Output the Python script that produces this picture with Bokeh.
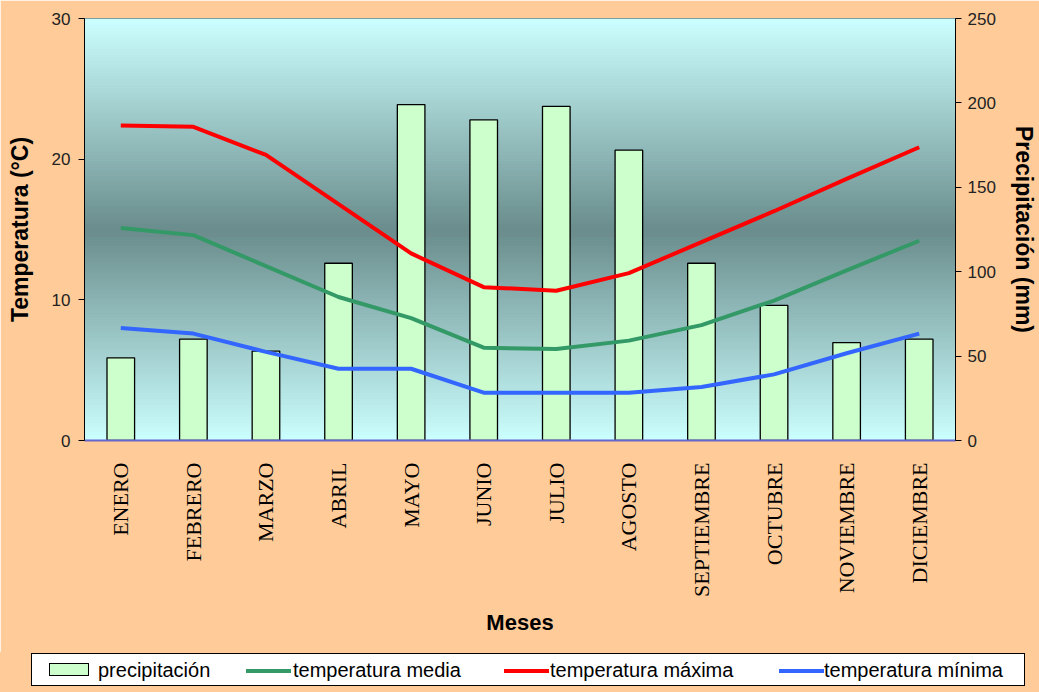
import numpy as np
from bokeh.plotting import figure
from bokeh.layouts import column
from bokeh.models import Range1d, LinearAxis, FixedTicker, FactorRange, Div
from bokeh.embed import file_html
from bokeh.resources import INLINE

# ---- data ----
meses = ["ENERO", "FEBRERO", "MARZO", "ABRIL", "MAYO", "JUNIO", "JULIO",
         "AGOSTO", "SEPTIEMBRE", "OCTUBRE", "NOVIEMBRE", "DICIEMBRE"]
precipitacion = [49, 60, 53, 105, 199, 190, 198, 172, 105, 80, 58, 60]
temp_media = [15.1, 14.6, 12.4, 10.2, 8.7, 6.6, 6.5, 7.1, 8.2, 9.95, 12.1, 14.2]
temp_maxima = [22.4, 22.3, 20.3, 16.8, 13.3, 10.9, 10.65, 11.9, 14.1, 16.3, 18.6, 20.85]
temp_minima = [8.0, 7.6, 6.3, 5.1, 5.1, 3.4, 3.4, 3.4, 3.8, 4.7, 6.2, 7.6]
temp_ticks = [0, 10, 20, 30]
precip_ticks = [0, 50, 100, 150, 200, 250]
legend_labels = ["precipitación", "temperatura media", "temperatura máxima", "temperatura mínima"]

BG = "#FFCC99"
C_BAR = "#CCFFCC"
C_MED = "#339966"
C_MAX = "#FF0000"
C_MIN = "#3366FF"

p = figure(x_range=FactorRange(factors=meses, range_padding=0),
           y_range=Range1d(0, 30),
           width=1039, height=652,
           min_border_left=84, min_border_right=81,
           min_border_top=18, min_border_bottom=212,
           output_backend="svg", toolbar_location=None, tools="")
p.extra_y_ranges = {"precip": Range1d(0, 250)}

p.border_fill_color = BG
p.background_fill_color = "#CCFFFF"
p.outline_line_color = "black"
p.outline_line_width = 1
p.xgrid.visible = False
p.ygrid.visible = False

# ---- plot-area gradient (light cyan at edges, grey-teal in the centre) ----
n = 140
edges = np.linspace(0, 30, n + 1)
mids = (edges[:-1] + edges[1:]) / 2 / 30.0
edge_c = np.array([204, 255, 255])
mid_c = np.array([106, 140, 140])
cols = []
for m in mids:
    d = min(abs(m - 0.5) / 0.5, 1.0)
    c = mid_c + (edge_c - mid_c) * d
    cols.append("#%02x%02x%02x" % tuple(int(round(v)) for v in c))
p.quad(left=0, right=len(meses), bottom=edges[:-1], top=edges[1:],
       fill_color=cols, line_color=cols, line_width=1)

# ---- bars & lines ----
p.vbar(x=meses, top=precipitacion, width=0.38, y_range_name="precip",
       fill_color=C_BAR, line_color="black", line_width=1.3)
p.line(x=meses, y=temp_minima, line_color=C_MIN, line_width=4)
p.line(x=meses, y=temp_media, line_color=C_MED, line_width=4)
p.line(x=meses, y=temp_maxima, line_color=C_MAX, line_width=4)

# ---- axes ----
lab_font = "Liberation Sans"
ya = p.yaxis[0]
ya.ticker = FixedTicker(ticks=temp_ticks)
ya.axis_label = "Temperatura (°C)"
ya.axis_label_text_font = lab_font
ya.axis_label_text_font_style = "bold"
ya.axis_label_text_font_size = "23px"
ya.axis_label_text_color = "black"
ya.axis_label_standoff = 16
ya.major_label_text_font = lab_font
ya.major_label_text_font_size = "17px"
ya.major_label_text_color = "#222222"
ya.major_label_standoff = 8
ya.major_tick_in = 0
ya.major_tick_out = 6
ya.minor_tick_line_color = None
ya.axis_line_color = "black"

ra = LinearAxis(y_range_name="precip", ticker=FixedTicker(ticks=precip_ticks))
ra.axis_label = "Precipitación (mm)"
ra.axis_label_text_font = lab_font
ra.axis_label_text_font_style = "bold"
ra.axis_label_text_font_size = "23px"
ra.axis_label_text_color = "black"
ra.axis_label_standoff = 12
ra.major_label_text_font = lab_font
ra.major_label_text_font_size = "17px"
ra.major_label_text_color = "#222222"
ra.major_label_standoff = 6
ra.major_tick_in = 0
ra.major_tick_out = 6
ra.minor_tick_line_color = None
ra.axis_line_color = "black"
p.add_layout(ra, "right")

xa = p.xaxis[0]
xa.major_label_orientation = np.pi / 2
xa.major_label_text_font = "Liberation Serif"
xa.major_label_text_font_size = "22px"
xa.major_label_text_color = "black"
xa.major_label_standoff = 16
xa.major_tick_line_color = None
xa.minor_tick_line_color = None
xa.axis_line_color = "#6666CC"
xa.axis_line_width = 2
xa.axis_label = "Meses"
xa.axis_label_text_font = lab_font
xa.axis_label_text_font_style = "bold"
xa.axis_label_text_font_size = "22px"
xa.axis_label_text_color = "black"
xa.axis_label_standoff = 10

# ---- legend strip (HTML, below the chart) ----
swatches = [
    f"left:17px;top:9px;width:40px;height:13px;background:{C_BAR};border:1.3px solid black;",
    f"left:214px;top:15px;width:45px;height:4px;background:{C_MED};",
    f"left:472px;top:15px;width:45px;height:4px;background:{C_MAX};",
    f"left:747px;top:15px;width:45px;height:4px;background:{C_MIN};",
]
label_left = [66, 261, 518, 792]
items_html = ""
for sw, lab, lx in zip(swatches, legend_labels, label_left):
    items_html += f'<div style="position:absolute;{sw}"></div>'
    items_html += (f'<div style="position:absolute;left:{lx}px;top:5px;line-height:23px;'
                   f'font-family:\'Liberation Sans\';font-size:20px;color:black;'
                   f'white-space:nowrap;">{lab}</div>')
legend_html = (
    f'<div style="position:relative;width:1039px;height:40px;background:{BG};">'
    f'<div style="position:absolute;left:31px;top:1px;width:994px;height:33px;'
    f'background:white;border:1.5px solid black;">{items_html}</div></div>'
)
leg = Div(text=legend_html, width=1039, height=40,
          styles={"background-color": BG, "margin": "0", "padding": "0"})

layout = column(p, leg, spacing=0)
open("out.html", "w").write(file_html(layout, INLINE))
